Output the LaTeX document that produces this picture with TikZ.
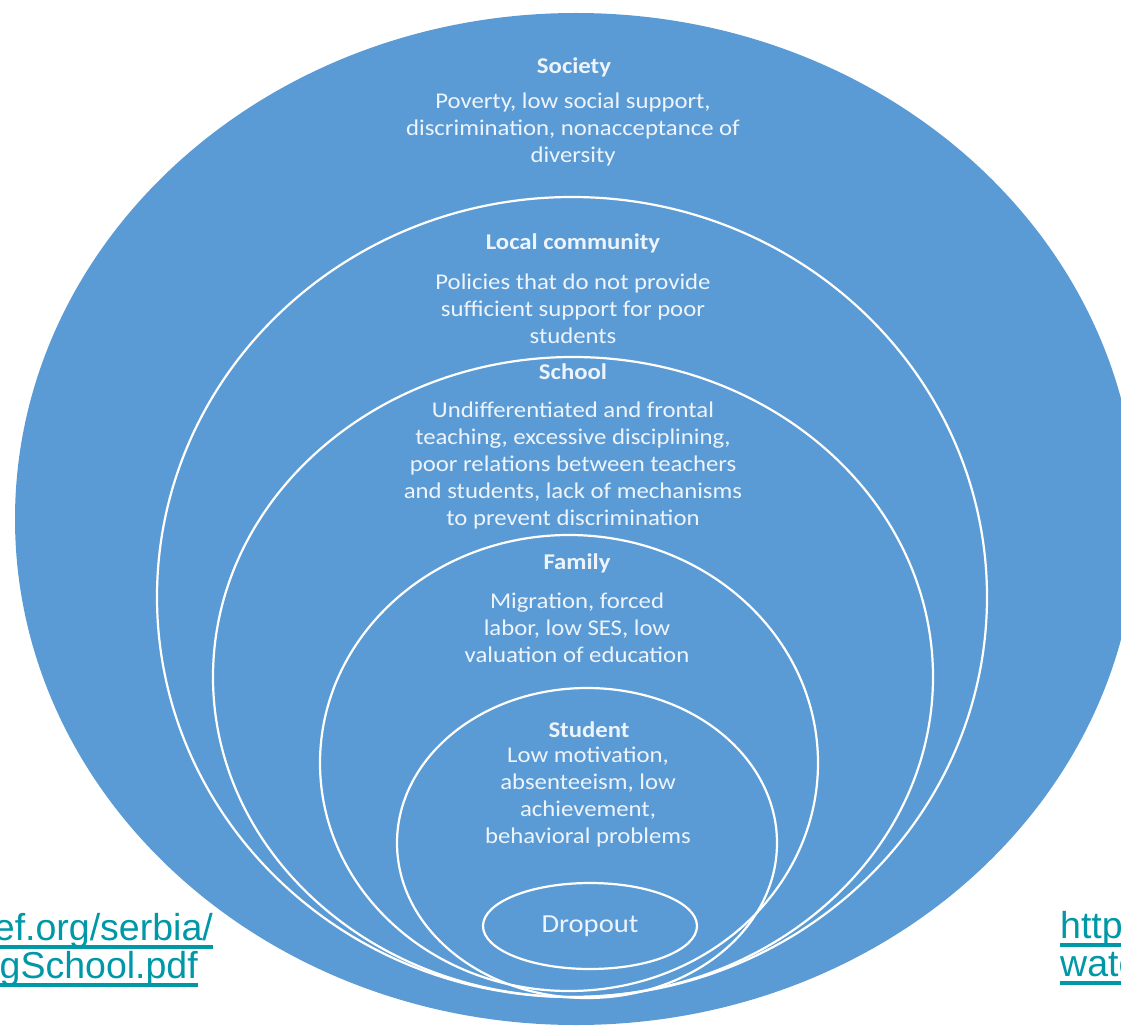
\documentclass[tikz,border=0pt]{standalone}
\usepackage{fontspec}
\setmainfont{Carlito}
\newfontfamily\diagfont[FakeStretch=1.1]{Carlito}
\newfontfamily\linkfont{Liberation Sans}
\usetikzlibrary{shapes.geometric}
\definecolor{ringblue}{HTML}{5B9BD5}
\definecolor{linkteal}{HTML}{0097A7}
\definecolor{softwhite}{HTML}{EEF4FB}

\begin{document}
\begin{tikzpicture}[x=1pt,y=-1pt,
  ring/.style={ellipse, draw=white, line width=2.2pt, inner sep=0pt},
  lvltitle/.style={font=\diagfont\bfseries\fontsize{22.5}{27}\selectfont, text=softwhite, inner sep=0pt},
  lvltext/.style={font=\diagfont\fontsize{22.5}{27}\selectfont, text=softwhite, align=center, inner sep=0pt},
  link/.style={font=\linkfont\fontsize{37.5}{42}\selectfont, text=linkteal, inner sep=0pt},
  linkline/.style={draw=linkteal, line width=3.2pt}
]
\useasboundingbox (0,0) rectangle (1121,1032);
\clip (0,0) rectangle (1121,1032);

% nested levels, outermost first
\node[ellipse, fill=ringblue, inner sep=0pt, minimum width=1122pt, minimum height=1012pt] (society) at (576,519) {};
\node[ring, minimum width=830pt, minimum height=800pt] (community) at (572,597) {};
\node[ring, minimum width=720pt, minimum height=640pt] (school) at (573,677) {};
\node[ring, minimum width=498pt, minimum height=456pt] (family) at (569,763) {};
\node[ring, minimum width=380pt, minimum height=310pt] (student) at (587,843) {};
\node[ring, minimum width=214pt, minimum height=86pt, text=softwhite,
      font=\diagfont\fontsize{26}{30}\selectfont] (dropout) at (590,926) {Dropout};

% level titles and descriptions
\node[lvltitle] (societyT) at (574,67) {Society};
\node[lvltext] (societyB) at (573,130) {Poverty, low social support,\\discrimination, nonacceptance of\\diversity};

\node[lvltitle] (communityT) at (573,243) {Local community};
\node[lvltext] (communityB) at (573,309) {Policies that do not provide\\sufficient support for poor\\students};

\node[lvltitle] (schoolT) at (573,372) {School};
\node[lvltext] (schoolB) at (573,465) {Undifferentiated and frontal\\teaching, excessive disciplining,\\poor relations between teachers\\and students, lack of mechanisms\\to prevent discrimination};

\node[lvltitle] (familyT) at (577,563) {Family};
\node[lvltext] (familyB) at (577,628) {Migration, forced\\labor, low SES, low\\valuation of education};

\node[lvltitle] (studentT) at (589,730) {Student};
\node[lvltext] (studentB) at (588,797) {Low motivation,\\absenteeism, low\\achievement,\\behavioral problems};

% source links along the lower edge
\node[link, anchor=base east] (srcA1) at (213,940) {ef.org/serbia/};
\node[link, anchor=base east] (srcA2) at (198,978) {gSchool.pdf};
\node[link, anchor=base west] (srcB1) at (1060,938) {http};
\node[link, anchor=base west] (srcB2) at (1060,976) {watc};
\foreach \n in {srcA1,srcA2,srcB1,srcB2}
  \path[linkline] ([yshift=-7pt]\n.base west) -- ([yshift=-7pt]\n.base east);
\end{tikzpicture}
\end{document}
